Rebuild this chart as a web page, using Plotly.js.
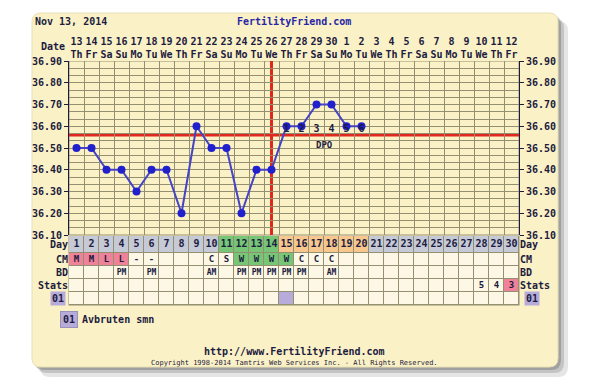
<!DOCTYPE html>
<html><head><meta charset="utf-8">
<script src="https://cdn.plot.ly/plotly-3.0.1.min.js"></script>
<style>html,body{margin:0;padding:0;background:#fff}#chart{width:600px;height:390px}</style>
</head><body><div id="chart"></div>
<script>
// ---------- data ----------
const cycleDays = [1,2,3,4,5,6,7,8,9,10,11,12,13,14,15,16,17,18,19,20,21,22,23,24,25,26,27,28,29,30];
const dateNumbers = ['13','14','15','16','17','18','19','20','21','22','23','24','25','26','27','28','29','30','1','2','3','4','5','6','7','8','9','10','11','12'];
const weekdays = ['Th','Fr','Sa','Su','Mo','Tu','We','Th','Fr','Sa','Su','Mo','Tu','We','Th','Fr','Sa','Su','Mo','Tu','We','Th','Fr','Sa','Su','Mo','Tu','We','Th','Fr'];
const tempDays = [1,2,3,4,5,6,7,8,9,10,11,12,13,14,15,16,17,18,19,20];
const temps = [36.50,36.50,36.40,36.40,36.30,36.40,36.40,36.20,36.60,36.50,36.50,36.20,36.40,36.40,36.60,36.60,36.70,36.70,36.60,36.60];
const coverline = 36.56;
const ovulationDay = 14;
const dpoDays = [15,16,17,18,19,20];
const dpoLabels = ['1','2','3','4','5','6'];
const tempTicks = [36.1,36.2,36.3,36.4,36.5,36.6,36.7,36.8,36.9];
// day-row phase: n = normal, f = fertile, l = post-ovulation
const dayPhase = ['n','n','n','n','n','n','n','n','n','n','f','f','f','f','l','l','l','l','l','l','n','n','n','n','n','n','n','n','n','n'];
const cmValues = ['M','M','L','L','-','-','','','','C','S','W','W','W','W','C','C','C','','','','','','','','','','','',''];
const cmColor  = ['p','p','p','p','','','','','','','','g','g','g','g','','','','','','','','','','','','','','',''];
const bdValues = ['','','','PM','','PM','','','','AM','','PM','PM','PM','PM','PM','','AM','','','','','','','','','','','',''];
const statsValues = ['','','','','','','','','','','','','','','','','','','','','','','','','','','','5','4','3'];
const statsColor  = ['','','','','','','','','','','','','','','','','','','','','','','','','','','','','','p'];
const flag01 = ['','','','','','','','','','','','','','','x','','','','','','','','','','','','','','',''];
const rowLabels = ['Day','CM','BD','Stats','01'];

// ---------- style / layout constants ----------
const W = 600, H = 390;
const X = p => p / W, Y = p => 1 - p / H;
const FONT = 'DejaVu Sans Mono, monospace';
const INK = '#1c1c40';
const GRID = '#958f72';
const CREAM = '#fbf1c6';
const RED = '#e0281e';
const COL = {bg:'#fdf8e6', n:'#c6cad7', f:'#76c676', l:'#f7c78e', p:'#ef8199', g:'#6cc46c', x:'#b7abd9'};
const codeOf = {'':0, n:1, f:2, g:2, l:3, p:4, x:5};
const palette = [COL.bg, COL.n, COL.f, COL.l, COL.p, COL.x];
const colorscale = [];
palette.forEach((c, i) => { colorscale.push([i/6, c]); colorscale.push([(i+1)/6, c]); });
const tableEdges = [0, 17, 30, 43, 56, 69];              // row boundaries (px inside table)
const rowMid = tableEdges.slice(0, 5).map((e, i) => (e + tableEdges[i+1]) / 2);
const xRange = [0.5, 30.5], yRange = [36.1, 36.9];

const b = s => s === '' ? '' : '<b>' + s + '</b>';
const rowY = r => cycleDays.map(() => rowMid[r]);

const z = [
  dayPhase.map(v => codeOf[v]),
  cmColor.map(v => codeOf[v]),
  cycleDays.map(() => 0),
  statsColor.map(v => codeOf[v]),
  flag01.map(v => codeOf[v])
];

const traces = [
  {type:'heatmap', x:cycleDays, y:tableEdges, z:z, colorscale:colorscale, zmin:-0.5, zmax:5.5,
   showscale:false, xgap:1, ygap:1, hoverinfo:'skip', xaxis:'x', yaxis:'y2'},
  {type:'scatter', mode:'text', x:cycleDays, y:rowY(0), text:cycleDays.map(d => b(String(d))),
   textfont:{family:FONT, size:10, color:INK}, xaxis:'x', yaxis:'y2', hoverinfo:'skip'},
  {type:'scatter', mode:'text', x:cycleDays, y:rowY(1), text:cmValues.map(b),
   textfont:{family:FONT, size:9, color:INK}, xaxis:'x', yaxis:'y2', hoverinfo:'skip'},
  {type:'scatter', mode:'text', x:cycleDays, y:rowY(2), text:bdValues.map(b),
   textfont:{family:FONT, size:8, color:INK}, xaxis:'x', yaxis:'y2', hoverinfo:'skip'},
  {type:'scatter', mode:'text', x:cycleDays, y:rowY(3), text:statsValues.map(b),
   textfont:{family:FONT, size:9, color:INK}, xaxis:'x', yaxis:'y2', hoverinfo:'skip'},
  {type:'scatter', mode:'markers', x:cycleDays, y:rowY(0), marker:{opacity:0}, xaxis:'x', yaxis:'y4', hoverinfo:'skip'},
  {type:'scatter', mode:'lines+markers', x:tempDays, y:temps,
   line:{color:'#4444c4', width:2}, marker:{color:'#2020cc', size:8},
   xaxis:'x', yaxis:'y', hoverinfo:'skip'},
  {type:'scatter', mode:'lines', x:tempDays, y:temps, opacity:0, xaxis:'x', yaxis:'y3', hoverinfo:'skip'},
  {type:'scatter', mode:'text', x:dpoDays, y:dpoDays.map(() => coverline), text:dpoLabels.map(b),
   textposition:'top center', textfont:{family:FONT, size:10, color:INK}, xaxis:'x', yaxis:'y', hoverinfo:'skip'}
];

const tempText = tempTicks.map(t => b(t.toFixed(2)));

const rr = (x0, y0, x1, y1, r) => {
  const rx = r / W, ry = r / H;
  const a = X(x0), c = X(x1), t = Y(y0), bt = Y(y1);
  return `M ${a+rx} ${t} L ${c-rx} ${t} Q ${c} ${t} ${c} ${t-ry} L ${c} ${bt+ry} Q ${c} ${bt} ${c-rx} ${bt} L ${a+rx} ${bt} Q ${a} ${bt} ${a} ${bt+ry} L ${a} ${t-ry} Q ${a} ${t} ${a+rx} ${t} Z`;
};

const shapes = [
  {type:'path', xref:'paper', yref:'paper', path:rr(40,21,568,377,10), fillcolor:'rgba(0,0,0,0.10)', line:{width:0}, layer:'below'},
  {type:'path', xref:'paper', yref:'paper', path:rr(37,18,564,373,10), fillcolor:'rgba(0,0,0,0.14)', line:{width:0}, layer:'below'},
  {type:'path', xref:'paper', yref:'paper', path:rr(34,15,561,370,10), fillcolor:'rgba(0,0,0,0.18)', line:{width:0}, layer:'below'},
  {type:'path', xref:'paper', yref:'paper', path:rr(32,13,558,367,9), fillcolor:CREAM, line:{color:'#e8dfb4', width:1}, layer:'below'},
  {type:'rect', xref:'paper', yref:'paper', x0:X(68.5), x1:X(519.5), y0:Y(305.5), y1:Y(235.5), fillcolor:GRID, line:{width:0}, layer:'below'},
  {type:'rect', xref:'x', yref:'y', x0:xRange[0], x1:xRange[1], y0:yRange[0], y1:yRange[1], line:{color:GRID, width:1}, layer:'below'},
  {type:'line', xref:'x', yref:'y', x0:xRange[0], x1:xRange[1], y0:coverline, y1:coverline, line:{color:RED, width:3}, layer:'below'},
  {type:'line', xref:'x', yref:'y', x0:ovulationDay, x1:ovulationDay, y0:yRange[0], y1:yRange[1], line:{color:RED, width:3}, layer:'below'}
];

const ann = (o) => Object.assign({showarrow:false, font:{family:FONT, size:10, color:INK}}, o);
const annotations = [
  ann({xref:'paper', yref:'paper', x:X(33), y:Y(21), xanchor:'left', yanchor:'middle', text:'<b>Nov 13, 2014</b>'}),
  ann({xref:'paper', yref:'paper', x:X(294), y:Y(21), xanchor:'center', yanchor:'middle', text:'<b>FertilityFriend.com</b>', font:{family:FONT, size:10, color:'#2626a6'}}),
  ann({xref:'paper', yref:'paper', x:X(67), y:Y(46), xanchor:'right', yanchor:'middle', text:'<b>Date</b>'}),
  ann({xref:'paper', yref:'y2', x:X(66), y:rowMid[4], xanchor:'right', yanchor:'middle', text:b(rowLabels[4]), bgcolor:COL.x, borderpad:1}),
  ann({xref:'paper', yref:'y2', x:X(524), y:rowMid[4], xanchor:'left', yanchor:'middle', text:b(rowLabels[4]), bgcolor:COL.x, borderpad:1}),
  ann({xref:'x', yref:'y', x:17.5, y:coverline, xanchor:'center', yanchor:'top', yshift:-3, text:'<b>DPO</b>', font:{family:FONT, size:9, color:INK}}),
  ann({xref:'paper', yref:'paper', x:X(60), y:Y(319), xanchor:'left', yanchor:'middle', text:b(rowLabels[4]), bgcolor:COL.x, bordercolor:'#9a92b8', borderwidth:1, borderpad:2}),
  ann({xref:'paper', yref:'paper', x:X(80), y:Y(319), xanchor:'left', yanchor:'middle', text:'<b>Avbruten smn</b>'}),
  ann({xref:'paper', yref:'paper', x:X(294), y:Y(351), xanchor:'center', yanchor:'middle', text:'<b>http://www.FertilityFriend.com</b>'}),
  ann({xref:'paper', yref:'paper', x:X(294), y:Y(363), xanchor:'center', yanchor:'middle', text:'Copyright 1998-2014 Tamtris Web Services Inc. - All Rights Reserved.', font:{family:FONT, size:7, color:INK}})
];

const layout = {
  width:W, height:H, margin:{l:0, r:0, t:0, b:0},
  paper_bgcolor:'#ffffff', plot_bgcolor:'rgba(0,0,0,0)',
  showlegend:false, font:{family:FONT, size:10, color:INK},
  xaxis:{domain:[X(69), X(519)], range:xRange, side:'top', anchor:'y', tickmode:'array',
         tickvals:cycleDays, ticktext:cycleDays.map((d,i) => b(dateNumbers[i]) + '<br>' + b(weekdays[i])),
         ticks:'', showgrid:false, zeroline:false, showline:false, fixedrange:true,
         tickfont:{family:FONT, size:10, color:INK},
         minor:{tickmode:'linear', tick0:0.5, dtick:1, showgrid:true, gridcolor:GRID, gridwidth:1, ticks:''}},
  yaxis:{domain:[Y(235), Y(61)], range:yRange, anchor:'x', tickmode:'array', tickvals:tempTicks, ticktext:tempText,
         ticks:'outside', ticklen:4, tickcolor:INK, showline:true, linecolor:INK, linewidth:1,
         showgrid:true, gridcolor:GRID, gridwidth:1, zeroline:false, fixedrange:true,
         tickfont:{family:FONT, size:10, color:INK},
         minor:{tickmode:'linear', tick0:36.1, dtick:0.1/3, showgrid:true, gridcolor:GRID, gridwidth:1, ticks:''}},
  yaxis3:{overlaying:'y', side:'right', anchor:'x', range:yRange, tickmode:'array', tickvals:tempTicks, ticktext:tempText,
         ticks:'outside', ticklen:4, tickcolor:INK, showline:true, linecolor:INK, showgrid:false, zeroline:false, fixedrange:true,
         tickfont:{family:FONT, size:10, color:INK}},
  yaxis2:{domain:[Y(305), Y(236)], range:[tableEdges[5], tableEdges[0]], anchor:'x', tickmode:'array', tickvals:rowMid.slice(0,4), ticktext:rowLabels.slice(0,4).map(b),
         ticks:'', showgrid:false, zeroline:false, showline:false, fixedrange:true,
         tickfont:{family:FONT, size:10, color:INK}},
  yaxis4:{overlaying:'y2', side:'right', anchor:'x', range:[tableEdges[5], tableEdges[0]], tickmode:'array', tickvals:rowMid.slice(0,4), ticktext:rowLabels.slice(0,4).map(b),
         ticks:'', showgrid:false, zeroline:false, showline:false, fixedrange:true,
         tickfont:{family:FONT, size:10, color:INK}},
  shapes:shapes, annotations:annotations
};

Plotly.newPlot('chart', traces, layout, {staticPlot:true, displayModeBar:false});
</script>
</body></html>
